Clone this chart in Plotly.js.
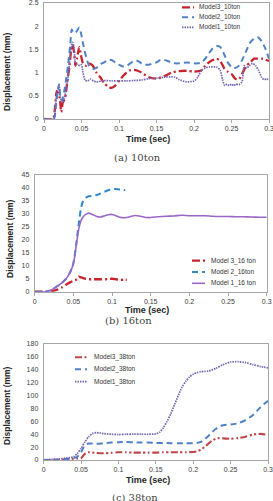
<!DOCTYPE html>
<html>
<head>
<meta charset="utf-8">
<script src="https://cdn.plot.ly/plotly-3.0.1.min.js"></script>
<style>
  html, body { margin: 0; padding: 0; background: #ffffff; }
  #chart { width: 273px; height: 501px; }
</style>
</head>
<body>
<div id="chart"></div>
<script>
// ---- Axis ticks ----
const timeTicks = [0, 0.05, 0.1, 0.15, 0.2, 0.25, 0.3];
const timeTickText = ['0', '0.05', '0.1', '0.15', '0.2', '0.25', '0.3'];

// ---- (a) 10 ton ----
const t10_m3 = [0, 0.012, 0.015, 0.017, 0.019, 0.021, 0.023, 0.025, 0.028, 0.031, 0.034, 0.036, 0.038, 0.040, 0.042, 0.044, 0.047, 0.049, 0.052, 0.056, 0.060, 0.065, 0.070, 0.075, 0.080, 0.085, 0.090, 0.095, 0.100, 0.105, 0.110, 0.115, 0.120, 0.125, 0.130, 0.140, 0.150, 0.160, 0.170, 0.180, 0.190, 0.200, 0.210, 0.215, 0.220, 0.225, 0.230, 0.235, 0.240, 0.245, 0.250, 0.255, 0.260, 0.265, 0.270, 0.275, 0.280, 0.285, 0.290, 0.295, 0.300];
const d10_m3 = [0, 0, 0.3, 0.6, 0.55, 0.45, 0.15, 0.35, 0.45, 0.8, 1.15, 1.45, 1.6, 1.45, 1.15, 1.3, 1.55, 1.4, 1.2, 1.15, 1.2, 1.15, 1.0, 0.9, 0.78, 0.7, 0.67, 0.72, 0.82, 0.92, 1.0, 1.05, 1.06, 1.04, 1.0, 0.9, 0.87, 0.92, 1.0, 1.03, 1.04, 1.02, 1.05, 1.15, 1.22, 1.27, 1.3, 1.25, 1.1, 1.02, 0.97, 0.87, 0.86, 1.0, 1.15, 1.22, 1.3, 1.3, 1.3, 1.28, 1.25];

const t10_m2 = [0, 0.013, 0.016, 0.018, 0.020, 0.022, 0.024, 0.027, 0.030, 0.033, 0.035, 0.037, 0.040, 0.043, 0.047, 0.050, 0.053, 0.056, 0.060, 0.065, 0.070, 0.075, 0.080, 0.085, 0.090, 0.095, 0.100, 0.105, 0.110, 0.115, 0.120, 0.125, 0.130, 0.135, 0.140, 0.145, 0.150, 0.155, 0.160, 0.165, 0.170, 0.175, 0.180, 0.190, 0.200, 0.205, 0.210, 0.215, 0.220, 0.225, 0.230, 0.235, 0.240, 0.245, 0.250, 0.255, 0.260, 0.265, 0.270, 0.275, 0.280, 0.285, 0.290, 0.295, 0.300];
const d10_m2 = [0, 0, 0.3, 0.55, 0.75, 0.45, 0.4, 0.6, 0.9, 1.3, 1.6, 1.93, 1.85, 1.88, 1.97, 1.8, 1.55, 1.35, 1.15, 1.08, 1.1, 1.18, 1.22, 1.27, 1.27, 1.22, 1.17, 1.13, 1.14, 1.2, 1.25, 1.25, 1.2, 1.17, 1.17, 1.2, 1.22, 1.27, 1.27, 1.25, 1.22, 1.2, 1.2, 1.22, 1.2, 1.2, 1.22, 1.3, 1.42, 1.52, 1.57, 1.55, 1.4, 1.22, 1.12, 1.1, 1.15, 1.3, 1.48, 1.65, 1.73, 1.76, 1.68, 1.52, 1.3];

const t10_m1 = [0, 0.013, 0.016, 0.018, 0.020, 0.022, 0.025, 0.028, 0.031, 0.034, 0.036, 0.038, 0.040, 0.042, 0.045, 0.048, 0.050, 0.052, 0.055, 0.058, 0.062, 0.066, 0.070, 0.080, 0.090, 0.100, 0.110, 0.120, 0.130, 0.140, 0.150, 0.160, 0.170, 0.175, 0.180, 0.190, 0.200, 0.205, 0.210, 0.215, 0.220, 0.230, 0.235, 0.238, 0.241, 0.244, 0.247, 0.250, 0.253, 0.256, 0.260, 0.264, 0.267, 0.270, 0.274, 0.278, 0.282, 0.286, 0.290, 0.293, 0.296, 0.300];
const d10_m1 = [0, 0, 0.45, 0.6, 0.72, 0.45, 0.35, 0.5, 0.75, 1.2, 1.5, 1.65, 1.55, 1.2, 1.17, 1.15, 1.17, 1.0, 0.83, 0.82, 0.86, 0.82, 0.8, 0.83, 0.82, 0.82, 0.82, 0.83, 0.84, 0.87, 0.88, 0.9, 0.91, 0.9, 0.85, 0.8, 0.82, 0.9, 1.05, 1.1, 1.12, 1.12, 1.05, 0.85, 0.72, 0.75, 0.72, 0.75, 0.72, 0.75, 0.74, 0.8, 1.15, 1.1, 1.15, 1.2, 1.15, 1.05, 0.9, 0.85, 0.86, 0.85];

// ---- (b) 16 ton ----
const t16_m3 = [0, 0.015, 0.020, 0.025, 0.030, 0.035, 0.040, 0.045, 0.050, 0.053, 0.055, 0.057, 0.060, 0.065, 0.070, 0.075, 0.080, 0.085, 0.090, 0.095, 0.100, 0.105, 0.110, 0.115, 0.119];
const d16_m3 = [0, 0, 0.1, 0.4, 0.9, 1.6, 2.6, 3.5, 4.2, 4.5, 5.0, 5.8, 5.5, 5.0, 4.8, 4.8, 4.8, 4.8, 4.7, 4.9, 5.0, 4.8, 4.6, 4.6, 4.6];

const t16_m2 = [0, 0.015, 0.020, 0.025, 0.030, 0.035, 0.040, 0.045, 0.048, 0.050, 0.052, 0.054, 0.056, 0.058, 0.060, 0.062, 0.065, 0.068, 0.070, 0.075, 0.080, 0.085, 0.090, 0.095, 0.100, 0.105, 0.110, 0.114, 0.117];
const d16_m2 = [0, 0, 0.5, 1.3, 2.3, 3.4, 4.8, 7.0, 9.0, 11.0, 14.5, 19.0, 24.0, 28.5, 32.5, 34.5, 36.0, 36.6, 36.8, 37.0, 37.3, 37.8, 38.5, 39.1, 39.5, 39.6, 39.4, 39.2, 39.2];

const t16_m1 = [0, 0.015, 0.020, 0.025, 0.030, 0.035, 0.040, 0.045, 0.048, 0.050, 0.052, 0.054, 0.056, 0.058, 0.060, 0.063, 0.066, 0.070, 0.073, 0.077, 0.080, 0.085, 0.090, 0.095, 0.100, 0.105, 0.110, 0.115, 0.120, 0.125, 0.130, 0.135, 0.140, 0.145, 0.150, 0.160, 0.170, 0.180, 0.190, 0.200, 0.210, 0.220, 0.230, 0.240, 0.250, 0.260, 0.270, 0.280, 0.290, 0.300];
const d16_m1 = [0, 0, 0.5, 1.3, 2.3, 3.4, 4.8, 7.0, 9.0, 10.8, 14.0, 18.5, 22.5, 25.5, 27.5, 29.0, 29.8, 30.3, 30.0, 29.5, 29.0, 28.8, 29.2, 29.7, 29.8, 29.3, 28.7, 28.5, 28.7, 29.1, 29.4, 29.2, 28.9, 28.6, 28.6, 28.9, 29.1, 29.2, 29.5, 29.3, 29.3, 29.3, 29.1, 29.0, 29.0, 28.9, 28.9, 28.8, 28.7, 28.7];

// ---- (c) 38 ton ----
const t38_m3 = [0, 0.02, 0.03, 0.04, 0.045, 0.050, 0.053, 0.056, 0.060, 0.065, 0.070, 0.080, 0.090, 0.100, 0.110, 0.120, 0.130, 0.140, 0.150, 0.160, 0.170, 0.180, 0.190, 0.200, 0.205, 0.210, 0.215, 0.220, 0.225, 0.230, 0.235, 0.240, 0.250, 0.260, 0.270, 0.280, 0.290, 0.300];
const d38_m3 = [0, 0.3, 1, 2, 2.5, 3, 7, 10.5, 12, 11.5, 11, 10.5, 11, 12, 12, 11.5, 11.5, 11.5, 11.5, 12, 12, 12, 12, 12.5, 13.5, 16, 20, 25, 30, 33, 34, 33.5, 33, 34, 36, 39.5, 40.5, 39];

const t38_m2 = [0, 0.02, 0.03, 0.04, 0.045, 0.050, 0.053, 0.056, 0.060, 0.065, 0.070, 0.080, 0.090, 0.100, 0.110, 0.120, 0.130, 0.140, 0.150, 0.160, 0.170, 0.180, 0.190, 0.200, 0.205, 0.210, 0.215, 0.220, 0.225, 0.230, 0.235, 0.240, 0.250, 0.260, 0.270, 0.280, 0.290, 0.300];
const d38_m2 = [0, 0.5, 1.5, 3, 5, 12, 19, 23.5, 25.5, 25.5, 25, 26, 27, 27.5, 28, 27.5, 27, 27, 26.5, 26.5, 26, 26, 26, 26, 26.5, 28, 32, 37, 43, 48, 52, 54, 55, 57, 62, 70, 82, 92];

const t38_m1 = [0, 0.02, 0.03, 0.04, 0.045, 0.050, 0.055, 0.060, 0.065, 0.070, 0.075, 0.080, 0.090, 0.100, 0.110, 0.120, 0.130, 0.140, 0.150, 0.155, 0.160, 0.165, 0.170, 0.175, 0.180, 0.185, 0.190, 0.195, 0.200, 0.205, 0.210, 0.215, 0.220, 0.230, 0.240, 0.250, 0.260, 0.270, 0.280, 0.290, 0.300];
const d38_m1 = [0.5, 1.5, 3, 5, 10, 18, 28, 36, 41, 42.5, 42, 41, 40, 39.5, 40, 40, 40, 40, 40.5, 43, 50, 60, 72, 86, 100, 113, 122, 129, 133, 135.5, 137, 137.5, 138, 142, 148, 152, 152.5, 151, 148, 145, 143];

// ---- Series styles ----
const W = 273, H = 501;
const px = v => v / W;
const py = v => 1 - v / H;

const red = {color: '#c8232c', width: 2.3, dash: '8px,3px,2px,3px'};
const blue = {color: '#4f81c7', width: 2, dash: '6px,4px'};
const purple = {color: '#7566b4', width: 1.7, dash: '1.5px,1px'};
const blueB = {color: '#2e86cf', width: 2, dash: '6px,4px'};
const purpleB = {color: '#9b67c9', width: 1.6, dash: 'solid'};
const redC = {color: '#c0464a', width: 2.1, dash: '7px,2.5px,2px,2.5px,2px,2.5px'};

const panels = [
  {xa: 'x', ya: 'y', series: [
    {name: 'Model3_10ton', t: t10_m3, d: d10_m3, line: red},
    {name: 'Model2_10ton', t: t10_m2, d: d10_m2, line: blue},
    {name: 'Model1_10ton', t: t10_m1, d: d10_m1, line: purple}],
   legend: {rows: [7.3, 17.3, 27.3], x0: 182, x1: 194, tx: 197}},
  {xa: 'x2', ya: 'y2', series: [
    {name: 'Model 3_16 ton', t: t16_m3, d: d16_m3, line: red},
    {name: 'Model 2_16ton', t: t16_m2, d: d16_m2, line: blueB},
    {name: 'Model 1_16 ton', t: t16_m1, d: d16_m1, line: purpleB}],
   legend: {rows: [260.7, 272, 283.3], x0: 192, x1: 205, tx: 209}},
  {xa: 'x3', ya: 'y3', series: [
    {name: 'Model3_38ton', t: t38_m3, d: d38_m3, line: redC},
    {name: 'Model2_38ton', t: t38_m2, d: d38_m2, line: blue},
    {name: 'Model1_38ton', t: t38_m1, d: d38_m1, line: purple}],
   legend: {rows: [357.3, 369.3, 381.7], x0: 75, x1: 87, tx: 92}}
];

const traces = [];
const shapes = [];
const annotations = [];
const legendFont = {family: 'Liberation Sans, Arial, sans-serif', size: 6.5, color: '#333333'};

panels.forEach(p => {
  p.series.forEach((s, i) => {
    traces.push({
      type: 'scatter', mode: 'lines', name: s.name,
      x: s.t, y: s.d, xaxis: p.xa, yaxis: p.ya,
      line: {color: s.line.color, width: s.line.width, dash: s.line.dash, shape: 'spline', smoothing: 0.6},
      showlegend: false, hoverinfo: 'skip'
    });
    const yy = py(p.legend.rows[i]);
    shapes.push({type: 'line', xref: 'paper', yref: 'paper',
      x0: px(p.legend.x0), x1: px(p.legend.x1), y0: yy, y1: yy,
      line: {color: s.line.color, width: s.line.width, dash: s.line.dash}});
    annotations.push({xref: 'paper', yref: 'paper', x: px(p.legend.tx), y: yy,
      xanchor: 'left', yanchor: 'middle', showarrow: false, text: s.name, font: legendFont});
  });
});

// Axis titles and captions
const titleFont = {family: 'Liberation Sans, Arial, sans-serif', size: 8.5, color: '#262626', weight: 'bold'};
const timeFont = {family: 'Liberation Sans, Arial, sans-serif', size: 9, color: '#262626', weight: 'bold'};
const capFont = {family: 'DejaVu Serif, Liberation Serif, serif', size: 10, color: '#444444'};
const labels = [
  {text: 'Displacement (mm)', x: 7, y: 72, rot: -90, font: titleFont},
  {text: 'Time (sec)', x: 148, y: 139, font: timeFont},
  {text: '(a) 10ton', x: 137, y: 157, font: capFont},
  {text: 'Displacement (mm)', x: 10, y: 239, rot: -90, font: titleFont},
  {text: 'Time (sec)', x: 147, y: 310, font: timeFont},
  {text: '(b) 16ton', x: 128, y: 320.5, font: capFont},
  {text: 'Displacement (mm)', x: 7, y: 406, rot: -90, font: titleFont},
  {text: 'Time (sec)', x: 148, y: 480, font: timeFont},
  {text: '(c) 38ton', x: 135, y: 497.5, font: capFont}
];
labels.forEach(l => annotations.push({xref: 'paper', yref: 'paper', x: px(l.x), y: py(l.y),
  xanchor: 'center', yanchor: 'middle', showarrow: false, text: l.text, textangle: l.rot || 0, font: l.font}));

const tickFont = {family: 'Liberation Sans, Arial, sans-serif', size: 7, color: '#404040'};
function xAxis(domain, anchor) {
  return {domain: domain, anchor: anchor, range: [0, 0.3], tickvals: timeTicks, ticktext: timeTickText,
    showline: true, mirror: true, linecolor: '#a6a6a6', linewidth: 1,
    ticks: 'outside', ticklen: 3, tickcolor: '#a6a6a6', tickfont: tickFont,
    ticklabeloverflow: 'allow',
    showgrid: false, zeroline: false, fixedrange: true};
}
function yAxis(domain, anchor, range, dtick) {
  return {domain: domain, anchor: anchor, range: range, dtick: dtick, tick0: 0,
    showline: true, mirror: true, linecolor: '#a6a6a6', linewidth: 1,
    ticks: 'outside', ticklen: 3, tickcolor: 'rgba(0,0,0,0)', tickfont: tickFont,
    ticklabeloverflow: 'allow',
    showgrid: false, zeroline: false, fixedrange: true};
}

const layout = {
  width: W, height: H,
  margin: {l: 0, r: 0, t: 0, b: 0},
  paper_bgcolor: '#ffffff', plot_bgcolor: '#ffffff',
  showlegend: false,
  xaxis: xAxis([px(44), px(269)], 'y'),
  yaxis: yAxis([py(119), py(3)], 'x', [0, 2.5], 0.5),
  xaxis2: xAxis([px(34.7), px(266.7)], 'y2'),
  yaxis2: yAxis([py(291.7), py(175)], 'x2', [0, 45], 5),
  xaxis3: xAxis([px(43.7), px(268)], 'y3'),
  yaxis3: yAxis([py(460), py(344)], 'x3', [0, 180], 20),
  shapes: shapes,
  annotations: annotations
};

Plotly.newPlot('chart', traces, layout, {staticPlot: true, displayModeBar: false});
</script>
</body>
</html>
